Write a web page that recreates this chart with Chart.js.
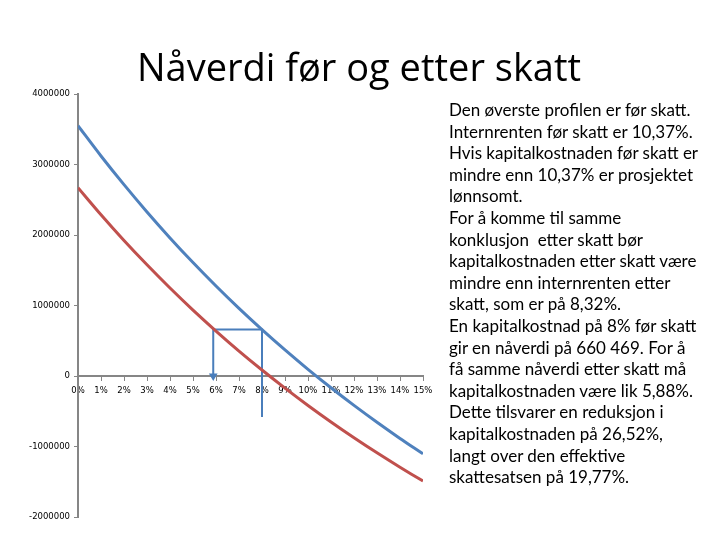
<!DOCTYPE html>
<html>
<head>
<meta charset="utf-8">
<script src="https://cdn.jsdelivr.net/npm/chart.js@4"></script>
<style>
  body { margin: 0; background: #fff; }
  #wrap { position: relative; width: 720px; height: 540px; overflow: hidden; }
  #chart { position: absolute; left: 0; top: 0; }
  #title {
    position: absolute; left: 0; width: 718px; top: 40px; text-align: center;
    font-family: "Open Sans", sans-serif; font-size: 38px; color: #000;
  }
  #note {
    position: absolute; left: 449px; top: 99px; width: 270px;
    font-family: Lato, sans-serif; font-size: 17px; line-height: 21.6px; color: #000;
    white-space: pre;
  }
</style>
</head>
<body>
<div id="wrap">
  <canvas id="chart" width="450" height="540"></canvas>
  <div id="title">Nåverdi før og etter skatt</div>
  <div id="note"></div>
</div>
<script>
// rente i prosent (x-akse)
const rates = [0, 1, 2, 3, 4, 5, 6, 7, 8, 9, 10, 11, 12, 13, 14, 15];
// nåverdi før skatt (blå)
const npvBefore = [3551000, 3121000, 2714000, 2327000, 1959000, 1609000, 1276000, 959000,
  658000, 370000, 95000, -167000, -417000, -656000, -885000, -1104000];
// nåverdi etter skatt (rød)
const npvAfter = [2671000, 2287000, 1922000, 1577000, 1248000, 935000, 638000, 354000,
  85000, -172000, -418000, -652000, -876000, -1090000, -1294000, -1490000];
// hjelpelinjer: 5,88% -> 660 469 -> 8%
const guideX = [5.88, 5.88, 8, 8];
const guideY = [0, 660469, 660469, -580000];
const yTicks = [-2000000, -1000000, 0, 1000000, 2000000, 3000000, 4000000];

const noteLines = [
  'Den øverste profilen er før skatt.',
  'Internrenten før skatt er 10,37%.',
  'Hvis kapitalkostnaden før skatt er',
  'mindre enn 10,37% er prosjektet',
  'lønnsomt.',
  'For å komme til samme',
  'konklusjon  etter skatt bør',
  'kapitalkostnaden etter skatt være',
  'mindre enn internrenten etter',
  'skatt, som er på 8,32%.',
  'En kapitalkostnad på 8% før skatt',
  'gir en nåverdi på 660 469. For å',
  'få samme nåverdi etter skatt må',
  'kapitalkostnaden være lik 5,88%.',
  'Dette tilsvarer en reduksjon i',
  'kapitalkostnaden på 26,52%,',
  'langt over den effektive',
  'skattesatsen på 19,77%.'
];
document.getElementById('note').textContent = noteLines.join('\n');

const toPoints = (xs, ys) => xs.map((x, i) => ({ x: x, y: ys[i] }));
const axisColor = '#868686';
const tickFont = { family: 'DejaVu Sans', size: 8.5 };

new Chart(document.getElementById('chart'), {
  type: 'line',
  data: {
    datasets: [
      {
        data: toPoints(rates, npvBefore),
        borderColor: '#4F81BD',
        borderWidth: 3,
        pointRadius: 0,
        tension: 0.3
      },
      {
        data: toPoints(rates, npvAfter),
        borderColor: '#C0504D',
        borderWidth: 3,
        pointRadius: 0,
        tension: 0.3
      },
      {
        data: toPoints(guideX, guideY),
        borderColor: '#4A7EBB',
        backgroundColor: '#4A7EBB',
        borderWidth: 2,
        pointStyle: 'triangle',
        rotation: 180,
        pointRadius: [3, 0, 0, 0],
        tension: 0
      }
    ]
  },
  options: {
    responsive: false,
    animation: false,
    layout: { padding: { left: 18, right: 27, top: 94, bottom: 23 } },
    plugins: {
      legend: { display: false },
      tooltip: { enabled: false }
    },
    scales: {
      x: {
        type: 'linear',
        position: { y: 0 },
        min: 0,
        max: 15,
        border: { color: axisColor, width: 2 },
        grid: { drawOnChartArea: false, tickLength: 4, color: axisColor },
        ticks: {
          stepSize: 1,
          padding: 6,
          autoSkip: false,
          maxRotation: 0,
          minRotation: 0,
          color: '#000',
          font: tickFont,
          callback: v => v + '%'
        }
      },
      y: {
        min: -2000000,
        max: 4000000,
        afterFit: s => { s.width = 60; },
        afterBuildTicks: s => { s.ticks = yTicks.map(v => ({ value: v })); },
        border: { color: axisColor, width: 2 },
        grid: { drawOnChartArea: false, tickLength: 4, color: axisColor },
        ticks: {
          padding: 4,
          color: '#000',
          font: tickFont,
          callback: v => String(v)
        }
      }
    }
  }
});
</script>
</body>
</html>
